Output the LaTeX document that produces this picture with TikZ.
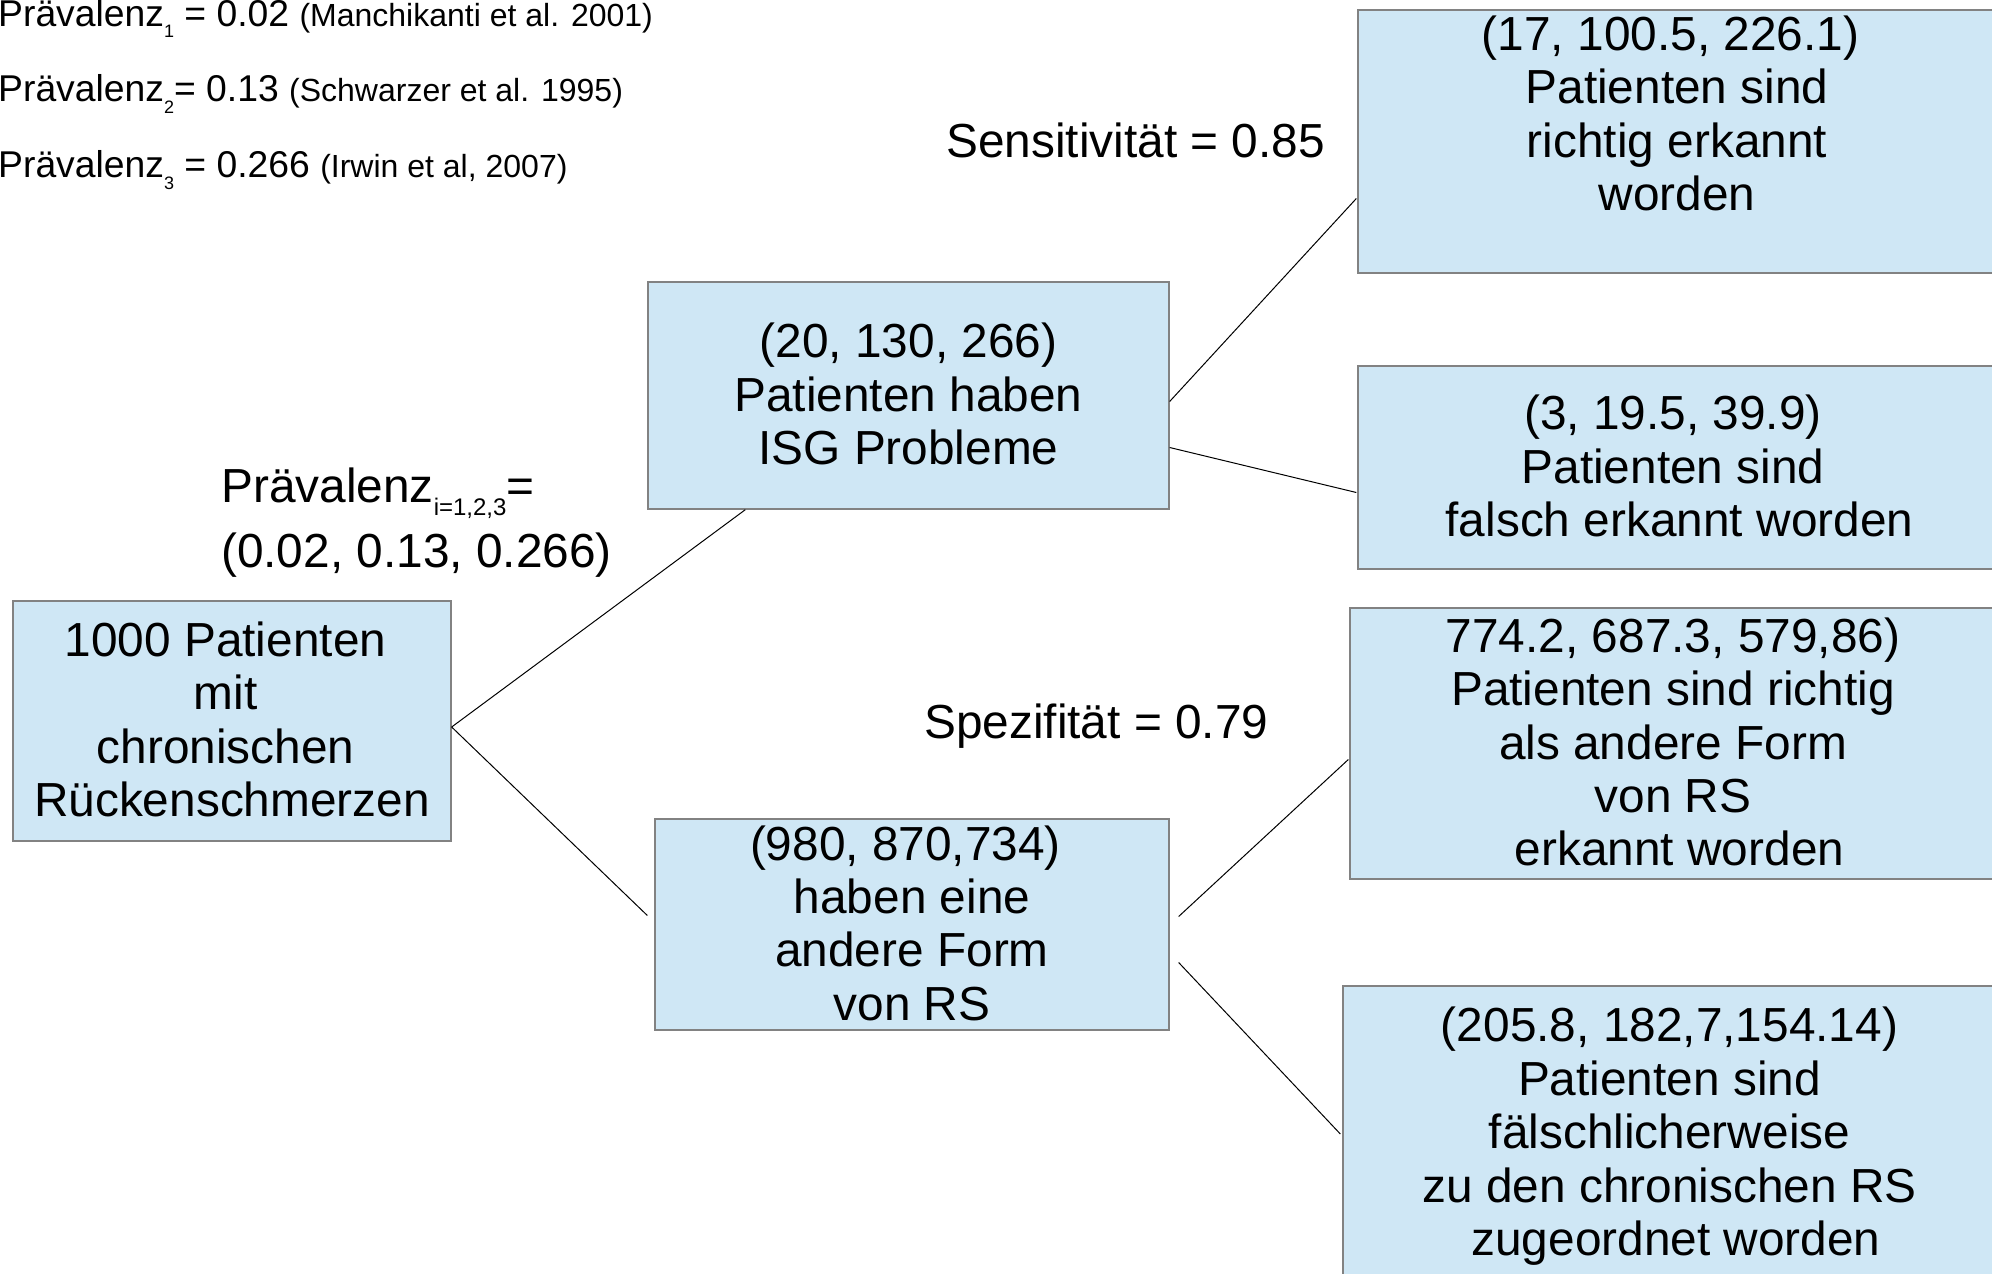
\documentclass[tikz,border=0pt]{standalone}
\usepackage{fontspec}
\setmainfont{Liberation Sans}
\usetikzlibrary{calc}
\definecolor{boxfill}{RGB}{207,231,245}
\definecolor{boxline}{RGB}{130,130,130}
\newcommand\bigtxt{\fontsize{47.8}{53.4}\selectfont}
\newcommand\toptxt{\fontsize{37.3}{40}\selectfont}
\newcommand\reftxt{\fontsize{32}{36}\selectfont}
\newcommand\mysub[3]{\raisebox{-#2}{\fontsize{#1}{#1}\selectfont #3}}
\newcommand\tsp{\rule{13pt}{0pt}}
\begin{document}
\begin{tikzpicture}[x=1pt,y=-1pt,
  box/.style={draw=boxline, line width=1.3pt, fill=boxfill, inner sep=0pt},
  txt/.style={inner sep=0pt, align=center, font=\bigtxt},
  conn/.style={draw=black, line width=1pt},
  lbl/.style={inner sep=0pt, anchor=base west, font=\bigtxt},
  reflbl/.style={inner sep=0pt, anchor=base west}]
\useasboundingbox (0,0) rectangle (1992,1274);

% boxes
\node[box, minimum width=438pt, minimum height=240pt] (root) at (232,721) {};
\node[box, minimum width=521pt, minimum height=227pt] (isg) at (908.5,395.5) {};
\node[box, minimum width=514pt, minimum height=211pt] (other) at (912,924.5) {};
\node[box, minimum width=638pt, minimum height=263pt] (tr) at (1677,141.5) {};
\node[box, minimum width=638pt, minimum height=203pt] (falsch) at (1677,467.5) {};
\node[box, minimum width=646pt, minimum height=271pt] (richtig) at (1673,743.5) {};
\node[box, minimum width=653pt, minimum height=294pt] (bottom) at (1669.5,1133) {};

% box texts
\node[txt] (root-t) at ($(root)+(0,5)$)
  {\strut 1000 Patienten\tsp\\mit\tsp\\chronischen\tsp\\Rückenschmerzen\strut};
\node[txt] (isg-t) at ($(isg)+(0,5)$)
  {\strut(20, 130, 266)\\Patienten haben\\ISG Probleme\strut};
\node[txt] (other-t) at ($(other)+(0,5)$)
  {\strut(980, 870,734)\tsp\\haben eine\\andere Form\\von RS\strut};
\node[txt] (tr-t) at ($(tr)+(0,-21.7)$)
  {\strut(17, 100.5, 226.1)\tsp\\Patienten sind\\richtig erkannt\\worden\strut};
\node[txt] (falsch-t) at ($(falsch)+(-4,5)$)
  {\strut(3, 19.5, 39.9)\\Patienten sind\\\tsp falsch erkannt worden\strut};
\node[txt] (richtig-t) at ($(richtig)+(0,5)$)
  {\strut774.2, 687.3, 579,86)\\Patienten sind richtig\\als andere Form\\von RS\\\tsp erkannt worden\strut};
\node[txt] (bottom-t) at ($(bottom)+(0,5)$)
  {\strut(205.8, 182,7,154.14)\\Patienten sind\\fälschlicherweise\\zu den chronischen RS\\\tsp zugeordnet worden\strut};

% connectors
\draw[conn] ($(root.east)+(0,6)$) -- ($(isg.south west)+(98,0)$);
\draw[conn] ($(root.east)+(0,6)$) -- ($(other.west)+(-7,-9)$);
\draw[conn] ($(isg.east)+(0,6)$) -- ($(tr.west)+(-1,57)$);
\draw[conn] ($(isg.east)+(0,52)$) -- ($(falsch.west)+(-1,25)$);
\draw[conn] ($(other.east)+(9,-8)$) -- ($(richtig.west)+(-1,16)$);
\draw[conn] ($(other.east)+(9,38)$) -- ($(bottom.west)+(-2,1)$);

% labels
\node[lbl] (sens) at (946,157) {Sensitivität = 0.85};
\node[lbl] (spez) at (924,738) {Spezifität = 0.79};
\node[lbl] (prevA) at (221,502) {Prävalenz\mysub{24}{13pt}{i=1,2,3}=};
\node[lbl] (prevB) at (221,567) {(0.02, 0.13, 0.266)};

\node[reflbl] (p1) at (-2,26) {\toptxt Prävalenz\mysub{18}{12pt}{1} = 0.02 \reftxt(Manchikanti et al. 2001)};
\node[reflbl] (p2) at (-2,101) {\toptxt Prävalenz\mysub{18}{12pt}{2}= 0.13 \reftxt(Schwarzer et al. 1995)};
\node[reflbl] (p3) at (-2,177) {\toptxt Prävalenz\mysub{18}{12pt}{3} = 0.266 \reftxt(Irwin et al, 2007)};
\end{tikzpicture}
\end{document}
